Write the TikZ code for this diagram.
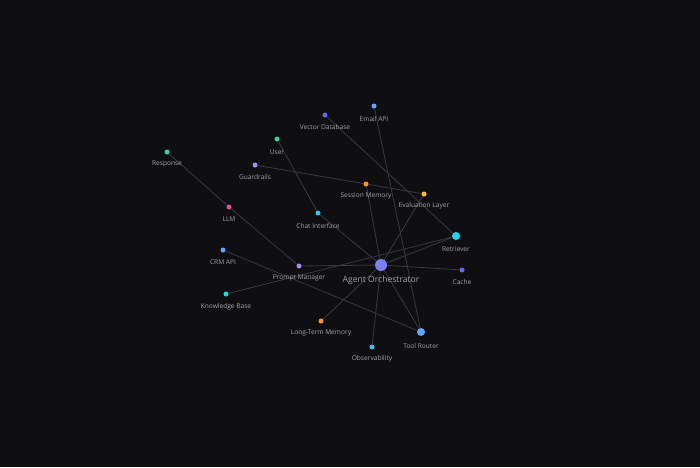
\documentclass[tikz,border=0pt]{standalone}
\usepackage{fontspec}
\setmainfont{Open Sans}
\definecolor{bg}{HTML}{0F0E11}
\definecolor{edge}{HTML}{3A393F}
\definecolor{lbl}{HTML}{A3A2AA}
\definecolor{cIndigo}{HTML}{6366F1}
\definecolor{cPeri}{HTML}{7F7FF5}
\definecolor{cCyan}{HTML}{22D3EE}
\definecolor{cBlue}{HTML}{60A5FA}
\definecolor{cSky}{HTML}{38BDF8}
\definecolor{cOrange}{HTML}{FB923C}
\definecolor{cViolet}{HTML}{A78BFA}
\definecolor{cPink}{HTML}{EC4899}
\definecolor{cGreen}{HTML}{34D399}
\definecolor{cYellow}{HTML}{FBBF24}
\pgfdeclarelayer{back}
\pgfsetlayers{back,main}
\tikzset{
  dot/.style={circle, inner sep=0pt, minimum size=5pt, draw=none},
  big/.style={minimum size=8pt},
  huge/.style={minimum size=12pt},
  lab/.style={text=lbl, font=\fontsize{6.6}{7}\selectfont, inner sep=0pt},
  biglab/.style={text=lbl, font=\fontsize{8.6}{9}\selectfont, inner sep=0pt},
  link/.style={draw=edge, line width=0.8pt},
}
\begin{document}
\begin{tikzpicture}[x=1pt,y=-1pt]
\useasboundingbox (0,0) rectangle (700,467);
% nodes
\node[dot,huge,fill=cPeri] (ao) at (381,265) {};
\node[dot,big,fill=cCyan] (ret) at (456,236) {};
\node[dot,fill=cIndigo] (cache) at (462,270) {};
\node[dot,big,fill=cBlue] (tr) at (421,332) {};
\node[dot,fill=cSky] (obs) at (372,347) {};
\node[dot,fill=cOrange] (ltm) at (321,321) {};
\node[dot,fill=cViolet] (pm) at (299,266) {};
\node[dot,fill=cCyan] (kb) at (226,294) {};
\node[dot,fill=cBlue] (crm) at (223,250) {};
\node[dot,fill=cPink] (llm) at (229,207) {};
\node[dot,fill=cGreen] (resp) at (167,152) {};
\node[dot,fill=cViolet] (guard) at (255,165) {};
\node[dot,fill=cGreen] (user) at (277,139) {};
\node[dot,fill=cSky] (chat) at (318,213) {};
\node[dot,fill=cIndigo] (vdb) at (325,115) {};
\node[dot,fill=cBlue] (email) at (374,106) {};
\node[dot,fill=cOrange] (sess) at (366,184) {};
\node[dot,fill=cYellow] (eval) at (424,194) {};
% edges
\begin{pgfonlayer}{back}
\fill[bg] (0,0) rectangle (700,467);
\path[link] (resp) -- (llm);
\path[link] (llm) -- (pm);
\path[link] (guard) -- (sess);
\path[link] (sess) -- (eval);
\path[link] (user) -- (chat);
\path[link] (chat) -- (ao);
\path[link] (vdb) -- (ret);
\path[link] (email) -- (tr);
\path[link] (sess) -- (ao);
\path[link] (eval) -- (ao);
\path[link] (ret) -- (ao);
\path[link] (kb) -- (ret);
\path[link] (ao) -- (cache);
\path[link] (ao) -- (tr);
\path[link] (ao) -- (obs);
\path[link] (ao) -- (ltm);
\path[link] (pm) -- (ao);
\path[link] (crm) -- (tr);
\end{pgfonlayer}
% labels
\node[biglab] (aol) at (381,280) {Agent Orchestrator};
\node[lab] (retl) at (456,249) {Retriever};
\node[lab] (cachel) at (462,282) {Cache};
\node[lab] (trl) at (421,346) {Tool Router};
\node[lab] (obsl) at (372,359) {Observability};
\node[lab] (ltml) at (321,333) {Long-Term Memory};
\node[lab] (pml) at (299,278) {Prompt Manager};
\node[lab] (kbl) at (226,307) {Knowledge Base};
\node[lab] (crml) at (223,262) {CRM API};
\node[lab] (llml) at (229,219) {LLM};
\node[lab] (respl) at (167,164) {Response};
\node[lab] (guardl) at (255,177) {Guardrails};
\node[lab] (userl) at (277,152) {User};
\node[lab] (chatl) at (318,226) {Chat Interface};
\node[lab] (vdbl) at (325,127) {Vector Database};
\node[lab] (emaill) at (374,119) {Email API};
\node[lab] (sessl) at (366,196) {Session Memory};
\node[lab] (evall) at (424,206) {Evaluation Layer};
\end{tikzpicture}
\end{document}
